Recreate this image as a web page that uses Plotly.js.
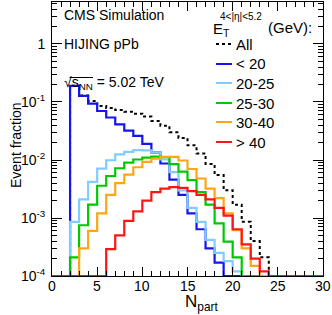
<!DOCTYPE html>
<html><head><meta charset="utf-8">
<script src="https://cdn.plot.ly/plotly-3.0.1.min.js"></script>
<style>html,body{margin:0;padding:0;background:#fff}#c{width:332px;height:315px}</style>
</head><body><div id="c"></div>
<script>
// Bin low edges (Npart), bins of width 1 from 0 to 30
const binEdges = [0,1,2,3,4,5,6,7,8,9,10,11,12,13,14,15,16,17,18,19,20,21,22,23,24,25,26,27,28,29,30];
const seriesNames = ['All', '&lt; 20', '20-25', '25-30', '30-40', '&gt; 40'];
const seriesColors = ['#000000', '#1414f0', '#80ccff', '#00c800', '#ffa514', '#ff1414'];

// Event fraction per Npart bin (bins 0..29)
const allEvents = [0,0,0.19,0.13,0.104,0.085,0.079,0.073,0.068,0.063,0.056,0.047,0.039,0.030,0.024,0.018,0.013,0.0085,0.0055,0.003,0.0017,0.00086,0.0004,0.00021,0,0,0,0,0,0];
const etBelow20 = [0,0,0.19,0.127,0.094,0.07,0.054,0.041,0.032,0.026,0.019,0.0135,0.0087,0.0046,0.0025,0.0012,0.00064,0.0003,0.00017,0,0,0,0,0,0,0,0,0,0,0];
const et20to25 = [0,0,0.00086,0.0021,0.0042,0.0071,0.0099,0.0125,0.0138,0.0148,0.0147,0.0136,0.0102,0.0062,0.003,0.0015,0.00086,0.00042,0.00025,0.00018,0.00012,0,0,0,0,0,0,0,0,0];
const et25to30 = [0,0,0.00021,0.00075,0.0017,0.0036,0.0053,0.0072,0.009,0.0102,0.011,0.0114,0.0112,0.0085,0.0063,0.0045,0.0028,0.0017,0.00081,0.00039,0.00021,0,0,0,0,0,0,0,0,0];
const et30to40 = [0,0,0,0.0003,0.0006,0.0012,0.0025,0.004,0.0056,0.0075,0.0093,0.0105,0.0113,0.0113,0.0098,0.007,0.0048,0.0032,0.0022,0.0012,0.00062,0.0003,0.00015,0,0,0,0,0,0,0];
const etAbove40 = [0,0,0,0,0,0,0.00029,0.0005,0.00089,0.0013,0.002,0.0028,0.0032,0.0034,0.0033,0.0029,0.0025,0.0021,0.0015,0.0011,0.00064,0.00035,0.0002,0.00012,0,0,0,0,0,0];

const yDecadeVals = [1e-4, 1e-3, 1e-2, 1e-1, 1];
const yDecadeText = ['10<sup>-4</sup>', '10<sup>-3</sup>', '10<sup>-2</sup>', '10<sup>-1</sup>', '1'];
const xTickVals = [0, 5, 10, 15, 20, 25, 30];
const xTickText = ['0', '5', '10', '15', '20', '25', '30'];

const seriesData = [allEvents, etBelow20, et20to25, et25to30, et30to40, etAbove40];
const FLOOR = 1e-4;

const traces = seriesData.map((vals, i) => {
  const y = vals.map(v => v > 0 ? v : FLOOR);
  y.push(y[y.length - 1]);
  return {
    x: binEdges, y: y, type: 'scatter', mode: 'lines',
    line: {shape: 'hv', color: seriesColors[i], width: i === 0 ? 2 : 2.2, dash: i === 0 ? 'dot' : 'solid'},
    showlegend: false, hoverinfo: 'skip'
  };
});

// minor tick positions
const yMinor = [];
for (let e = -4; e <= 0; e++) for (let m = 2; m <= 9; m++) { const v = m * Math.pow(10, e); if (v < 5.3) yMinor.push(v); }

// pixel helpers for plot area 52..323 x 2..276
const L = 52, R = 323, T = 2, B = 276;
const px = x => (x - L) / (R - L);
const py = y => (B - y) / (B - T);
const FONT = 'Liberation Sans, Arial, Helvetica, sans-serif';

const ann = (x, y, text, size, extra) => Object.assign({
  xref: 'paper', yref: 'paper', x: px(x), y: py(y), text: text, showarrow: false,
  xanchor: 'left', yanchor: 'middle', font: {family: FONT, size: size, color: '#000'}
}, extra || {});

const annotations = [
  ann(62, 15, 'CMS Simulation', 14),
  ann(62, 44, 'HIJING pPb', 14),
  ann(62, 83, '√s<sub>NN</sub> = 5.02 TeV', 14),
  ann(211, 30, 'E<sub>T</sub>', 15),
  ann(218, 17, '4&lt;|η|&lt;5.2', 10),
  ann(266, 27, '(GeV):', 15),
  ann(183, 303, 'N<sub>part</sub>', 17),
  ann(16, 145, 'Event fraction', 14, {xanchor: 'center', textangle: -90})
];
xTickVals.forEach((v, i) => {
  annotations.push({xref: 'x', yref: 'paper', x: v, y: py(286), text: xTickText[i], showarrow: false,
    xanchor: 'center', yanchor: 'middle', font: {family: FONT, size: 14, color: '#000'}});
});
const legendY = [44, 64, 83, 103, 122, 142];
const shapes = [
  {type: 'line', xref: 'paper', yref: 'paper', x0: px(69.5), x1: px(93), y0: py(77.5), y1: py(77.5), line: {color: '#000', width: 1}}
];
legendY.forEach((y, i) => {
  annotations.push(ann(234, y, seriesNames[i], 15));
  shapes.push({type: 'line', xref: 'paper', yref: 'paper', x0: px(216), x1: px(232), y0: py(y), y1: py(y),
    line: {color: seriesColors[i], width: 2, dash: i === 0 ? 'dot' : 'solid'}});
});

const layout = {
  width: 332, height: 315,
  margin: {l: L, r: 332 - R, t: T, b: 315 - B, pad: 0},
  paper_bgcolor: '#fff', plot_bgcolor: '#fff',
  font: {family: FONT, size: 14, color: '#000'},
  xaxis: {
    range: [0, 30], tickvals: xTickVals, ticks: 'inside', ticklen: 9, tickwidth: 1, tickcolor: '#000',
    showline: true, linecolor: '#000', linewidth: 1, mirror: 'allticks', showgrid: false, zeroline: false,
    showticklabels: false,
    minor: {dtick: 1, ticks: 'inside', ticklen: 5, tickcolor: '#000', showgrid: false}
  },
  yaxis: {
    type: 'log', range: [-4, 0.724], tickvals: yDecadeVals, ticktext: yDecadeText,
    ticks: 'inside', ticklen: 10, tickwidth: 1, tickcolor: '#000',
    showline: true, linecolor: '#000', linewidth: 1, mirror: 'allticks', showgrid: false, zeroline: false,
    tickfont: {family: FONT, size: 14}, ticklabelstandoff: 3,
    minor: {tickmode: 'array', tickvals: yMinor, ticks: 'inside', ticklen: 5, tickcolor: '#000', showgrid: false}
  },
  annotations: annotations,
  shapes: shapes
};

Plotly.newPlot('c', traces, layout, {staticPlot: true, displayModeBar: false});
</script>
</body></html>
